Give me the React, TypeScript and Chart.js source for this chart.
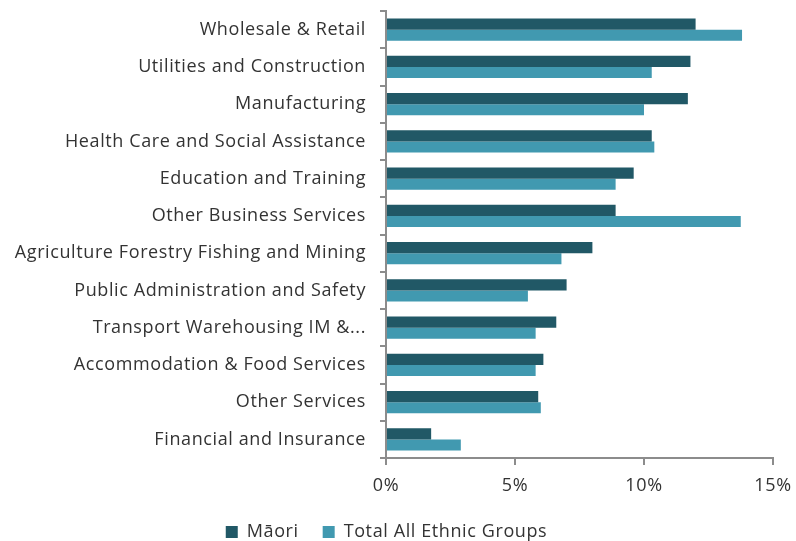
import React, { useEffect, useRef } from "react";
import { Chart, registerables } from "chart.js";

Chart.register(...registerables);

const categories = [
  "Wholesale & Retail",
  "Utilities and Construction",
  "Manufacturing",
  "Health Care and Social Assistance",
  "Education and Training",
  "Other Business Services",
  "Agriculture Forestry Fishing and Mining",
  "Public Administration and Safety",
  "Transport Warehousing IM &...",
  "Accommodation & Food Services",
  "Other Services",
  "Financial and Insurance",
];

const maoriValues = [12.0, 11.8, 11.7, 10.3, 9.6, 8.9, 8.0, 7.0, 6.6, 6.1, 5.9, 1.75];
const totalValues = [13.8, 10.3, 10.0, 10.4, 8.9, 13.75, 6.8, 5.5, 5.8, 5.8, 6.0, 2.9];

const xTicks = [0, 5, 10, 15];

const SPACING = "0.6px";
const CANVAS_H = 551;

const spacingPlugin = {
  id: "letterSpacing",
  beforeLayout: (chart: any) => {
    (chart.ctx as any).letterSpacing = SPACING;
  },
  beforeDraw: (chart: any) => {
    (chart.ctx as any).letterSpacing = SPACING;
  },
};

export default function App() {
  const ref = useRef<HTMLCanvasElement | null>(null);

  useEffect(() => {
    if (!ref.current) return;
    const font = { family: "'Open Sans', sans-serif", size: 18 };
    const chart = new Chart(ref.current, {
      type: "bar",
      plugins: [spacingPlugin],
      data: {
        labels: categories,
        datasets: [
          {
            label: "Māori",
            data: maoriValues,
            backgroundColor: "#215866",
            categoryPercentage: 0.6,
            barPercentage: 1.0,
          },
          {
            label: "Total All Ethnic Groups",
            data: totalValues,
            backgroundColor: "#4199b0",
            categoryPercentage: 0.6,
            barPercentage: 1.0,
          },
        ],
      },
      options: {
        indexAxis: "y",
        animation: false,
        responsive: false,
        maintainAspectRatio: false,
        layout: { padding: { top: 11, right: 23, left: 0, bottom: 0 } },
        plugins: {
          tooltip: { enabled: false },
          legend: {
            position: "bottom",
            labels: {
              font,
              color: "#333333",
              boxWidth: 12,
              boxHeight: 12,
              padding: 24,
            },
          },
        },
        scales: {
          x: {
            min: 0,
            max: 15,
            afterBuildTicks: (axis: any) => {
              axis.ticks = xTicks.map((v) => ({ value: v }));
            },
            afterFit: (axis: any) => {
              axis.height = 41;
              axis.paddingLeft = 0;
              axis.paddingRight = 0;
            },
            ticks: {
              font,
              color: "#333333",
              padding: 10,
              callback: (v: any) => `${v}%`,
            },
            grid: {
              drawOnChartArea: false,
              drawTicks: true,
              tickLength: 7,
              color: "#8c8c8c",
              lineWidth: 2,
            },
            border: { color: "#8c8c8c", width: 2 },
          },
          y: {
            afterFit: (axis: any) => {
              axis.width = 386;
              axis.paddingTop = 0;
              axis.paddingBottom = 0;
            },
            ticks: {
              font,
              color: "#333333",
              padding: 14,
              autoSkip: false,
            },
            grid: {
              offset: true,
              drawOnChartArea: false,
              drawTicks: true,
              tickLength: 6,
              color: "#8c8c8c",
              lineWidth: 2,
            },
            border: { color: "#8c8c8c", width: 2 },
          },
        },
      },
    });
    return () => chart.destroy();
  }, []);

  return (
    <div style={{ position: "fixed", left: 0, top: 0, width: 796, height: 541, overflow: "hidden", background: "#fff" }}>
      <canvas ref={ref} width={796} height={CANVAS_H} style={{ width: 796, height: CANVAS_H, display: "block" }} />
    </div>
  );
}
